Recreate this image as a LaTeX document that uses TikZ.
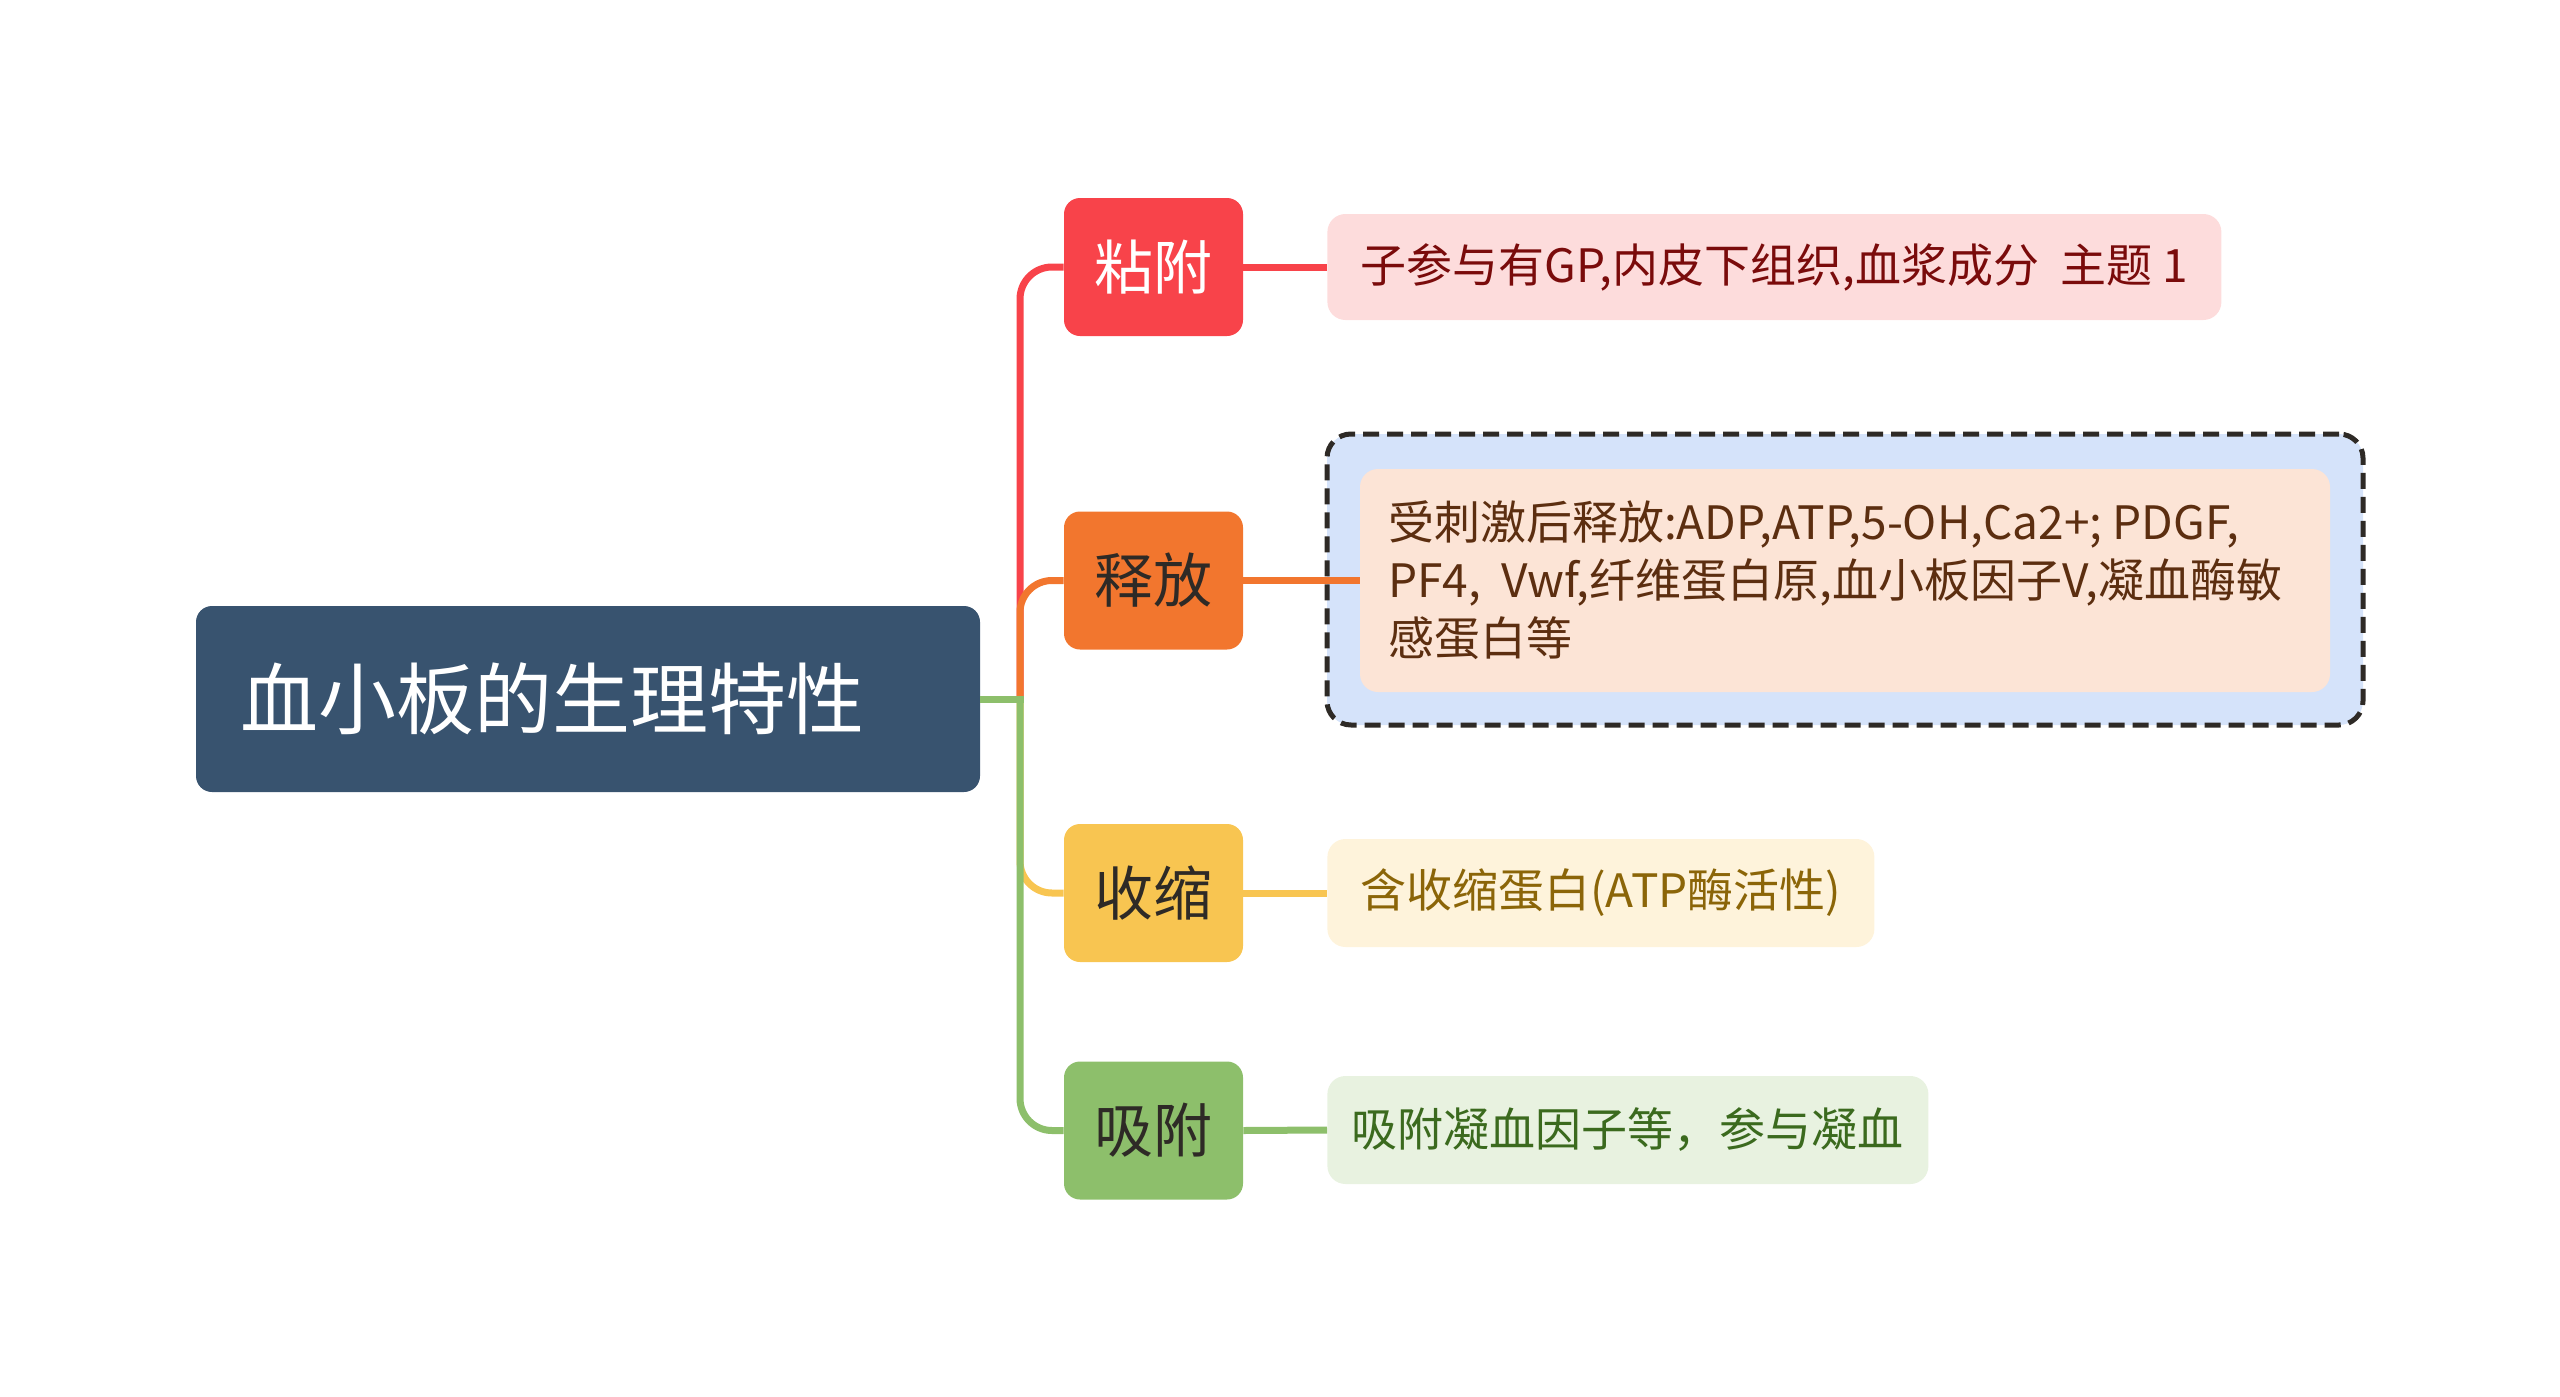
\documentclass[tikz,border=0pt]{standalone}
\usepackage{fontspec}
\setmainfont{Noto Sans CJK SC}
\definecolor{rootblue}{HTML}{38536F}
\definecolor{cred}{HTML}{F8434A}
\definecolor{corange}{HTML}{F2762E}
\definecolor{cyellow}{HTML}{F8C551}
\definecolor{cgreen}{HTML}{8DBF6B}
\definecolor{lredfill}{HTML}{FDDCDC}
\definecolor{lredtext}{HTML}{7A0B0B}
\definecolor{lorgfill}{HTML}{FCE4D6}
\definecolor{lorgtext}{HTML}{5C2E10}
\definecolor{lbluefill}{HTML}{D5E3FA}
\definecolor{lyelfill}{HTML}{FEF3DB}
\definecolor{lyeltext}{HTML}{8B6508}
\definecolor{lgrnfill}{HTML}{E8F2E0}
\definecolor{lgrntext}{HTML}{3B6A1E}
\definecolor{darktext}{HTML}{2E2A26}
\begin{document}
\begin{tikzpicture}[x=0.5pt,y=-0.5pt,
  rootbox/.style={fill=rootblue, rounded corners=8pt, minimum width=392pt, minimum height=93pt,
    text=white, font=\fontsize{39}{46}\selectfont, inner xsep=22pt, inner ysep=0pt,
    text width=348pt, align=left},
  childbox/.style={rounded corners=8pt, minimum width=89.5pt, minimum height=69pt,
    inner sep=0pt, font=\fontsize{29.5}{34}\selectfont},
  leafbox/.style={rounded corners=9pt, minimum height=53pt, inner sep=0pt,
    font=\fontsize{23}{29}\selectfont, anchor=west},
  conn/.style={line width=3.5pt, rounded corners=16pt}
]
\useasboundingbox (0,0) rectangle (2560,1397);

% root
\node[rootbox] (root) at (588,699) {血小板的生理特性};
\coordinate (hub) at (1020,699);

% children
\node[childbox, fill=cred, text=white] (c1) at (1153.5,267) {粘附};
\node[childbox, fill=corange, text=darktext] (c2) at (1153.5,580.5) {释放};
\node[childbox, fill=cyellow, text=darktext] (c3) at (1153.5,893) {收缩};
\node[childbox, fill=cgreen, text=darktext] (c4) at (1153.5,1130.5) {吸附};

% leaves
\node[leafbox, fill=lredfill, text=lredtext, minimum width=447pt] (l1) at (1327,267)
  {子参与有GP,内皮下组织,血浆成分\ \ 主题 1};

\node[draw=darktext, fill=lbluefill, line width=2.5pt, dash pattern=on 8pt off 4pt,
  rounded corners=12pt, minimum width=518pt, minimum height=145.5pt, inner sep=0pt]
  (l2outer) at (1845,579.5) {};
\node[fill=lorgfill, rounded corners=9pt, minimum width=485pt, minimum height=111.5pt,
  inner sep=0pt] (l2) at (1845,580.5) {};
\node[anchor=west, inner sep=0pt, align=left, text=lorgtext,
  font=\fontsize{23}{29}\selectfont] (l2text) at ([xshift=14pt]l2.west)
  {受刺激后释放:ADP,ATP,5-OH,Ca2+; PDGF,\\PF4,\ \ Vwf,纤维蛋白原,血小板因子V,凝血酶敏\\感蛋白等};

\node[leafbox, fill=lyelfill, text=lyeltext, minimum width=273.5pt, minimum height=54pt] (l3) at (1327,893)
  {含收缩蛋白(ATP酶活性)};
\node[leafbox, fill=lgrnfill, text=lgrntext, minimum width=300.5pt, minimum height=54pt] (l4) at (1327,1130)
  {吸附凝血因子等，参与凝血};

% connectors root -> children
\draw[conn, cred] (hub) |- (c1.west);
\draw[conn, corange] (hub) |- (c2.west);
\draw[conn, cyellow] (hub) |- (c3.west);
\draw[conn, cgreen] (hub) |- (c4.west);
\draw[line width=3.5pt, cgreen] (root.east) -- ([xshift=1.75pt]hub);

% connectors children -> leaves
\draw[line width=3.5pt, cred] (c1.east) -- (l1.west);
\draw[line width=3.5pt, corange] (c2.east) -- (l2.west);
\draw[line width=3.5pt, cyellow] (c3.east) -- (l3.west);
\draw[line width=3.5pt, cgreen] (c4.east) -- (l4.west);
\end{tikzpicture}
\end{document}
